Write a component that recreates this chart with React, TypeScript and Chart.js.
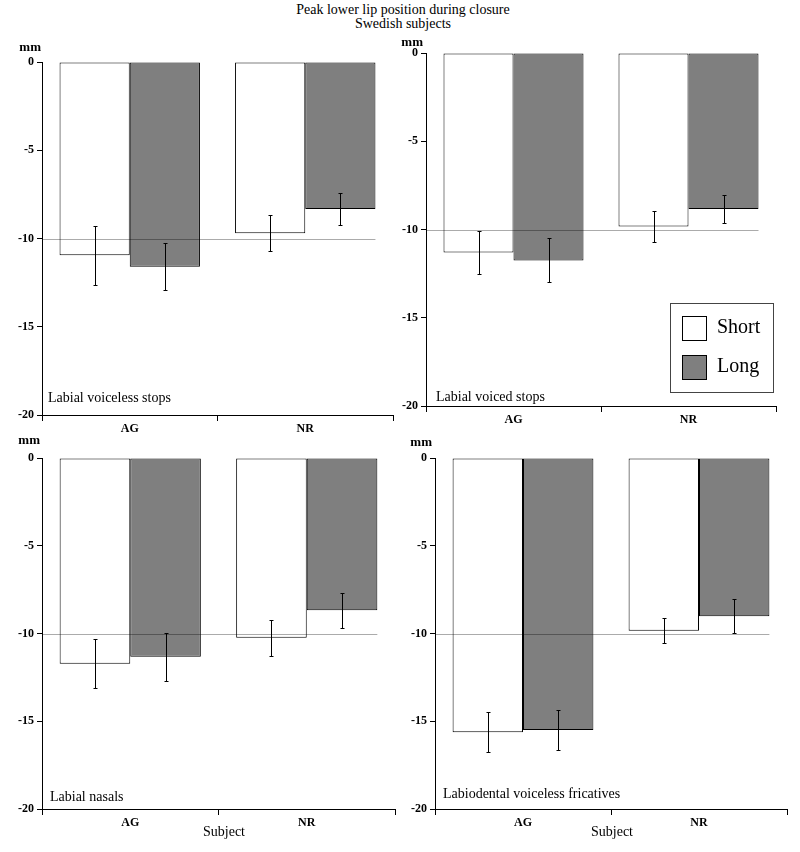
import React, { useEffect, useRef } from 'react';
import { Chart, registerables } from 'chart.js';

Chart.register(...registerables);

const FONT = "'Liberation Serif', 'Times New Roman', Times, serif";
Chart.defaults.font.family = FONT;

// ---------- data ----------
const mainTitleLines = ['Peak lower lip position during closure', 'Swedish subjects'];
const categories = ['AG', 'NR'];
const seriesNames = ['Short', 'Long'];
const yTickValues = [0, -5, -10, -15, -20];
const referenceValue = -10;
const yUnit = 'mm';
const xAxisTitle = 'Subject';

const panelTitles = [
  'Labial voiceless stops',
  'Labial voiced stops',
  'Labial nasals',
  'Labiodental voiceless fricatives',
];

const voicelessStopsShort = [-10.95, -9.7];
const voicelessStopsLong = [-11.6, -8.33];
const voicelessStopsShortErr = [1.68, 1.03];
const voicelessStopsLongErr = [1.34, 0.9];

const voicedStopsShort = [-11.3, -9.83];
const voicedStopsLong = [-11.75, -8.84];
const voicedStopsShortErr = [1.2, 0.86];
const voicedStopsLongErr = [1.25, 0.82];

const nasalsShort = [-11.72, -10.24];
const nasalsLong = [-11.33, -8.67];
const nasalsShortErr = [1.4, 1.02];
const nasalsLongErr = [1.38, 1.0];

const fricativesShort = [-15.63, -9.84];
const fricativesLong = [-15.5, -9.02];
const fricativesShortErr = [1.15, 0.72];
const fricativesLongErr = [1.12, 0.96];

// ---------- styles / layout ----------
const SHORT_COLOR = '#ffffff';
const LONG_COLOR = '#7f7f7f';
const Y_AXIS_W = 26;
const X_AXIS_H = 20;

type Rect = { left: number; top: number; w: number; h: number };
type Area = { l: number; t: number; r: number; b: number };
type Pt = { x: number; y: number };
type PanelCfg = {
  title: string;
  short: number[];
  long: number[];
  shortErr: number[];
  longErr: number[];
  canvas: Rect;
  area: Area;
  mm: Pt;
  label: Pt;
  subject: Pt | null;
  legend: boolean;
};

const panels: PanelCfg[] = [
  {
    title: panelTitles[0],
    short: voicelessStopsShort, long: voicelessStopsLong,
    shortErr: voicelessStopsShortErr, longErr: voicelessStopsLongErr,
    canvas: { left: 0, top: 30, w: 400, h: 405 },
    area: { l: 42, t: 62, r: 393, b: 415 },
    mm: { x: 41, y: 48 }, label: { x: 48, y: 398 }, subject: null, legend: false,
  },
  {
    title: panelTitles[1],
    short: voicedStopsShort, long: voicedStopsLong,
    shortErr: voicedStopsShortErr, longErr: voicedStopsLongErr,
    canvas: { left: 400, top: 30, w: 400, h: 405 },
    area: { l: 426, t: 53, r: 776, b: 406 },
    mm: { x: 423, y: 43 }, label: { x: 436, y: 397 }, subject: null, legend: true,
  },
  {
    title: panelTitles[2],
    short: nasalsShort, long: nasalsLong,
    shortErr: nasalsShortErr, longErr: nasalsLongErr,
    canvas: { left: 0, top: 435, w: 400, h: 417 },
    area: { l: 42, t: 458, r: 395, b: 809 },
    mm: { x: 40, y: 441 }, label: { x: 50, y: 797 }, subject: { x: 224, y: 832 }, legend: false,
  },
  {
    title: panelTitles[3],
    short: fricativesShort, long: fricativesLong,
    shortErr: fricativesShortErr, longErr: fricativesLongErr,
    canvas: { left: 400, top: 435, w: 400, h: 417 },
    area: { l: 435, t: 458, r: 787, b: 809 },
    mm: { x: 432, y: 443 }, label: { x: 443, y: 794 }, subject: { x: 612, y: 832 }, legend: false,
  },
];

function makeDecor(cfg: PanelCfg) {
  const ox = cfg.canvas.left;
  const oy = cfg.canvas.top;
  const errs = [cfg.shortErr, cfg.longErr];
  return {
    id: 'panelDecor',
    afterDatasetsDraw(chart: any) {
      const ctx = chart.ctx;
      const area = chart.chartArea;
      const ys = chart.scales.y;
      ctx.save();
      // reference line
      const lastMeta = chart.getDatasetMeta(chart.data.datasets.length - 1);
      const lastBar: any = lastMeta.data[lastMeta.data.length - 1];
      const right = lastBar.x + lastBar.width / 2;
      const ry = Math.round(ys.getPixelForValue(referenceValue)) + 0.5;
      ctx.strokeStyle = 'rgba(0,0,0,0.33)';
      ctx.lineWidth = 1;
      ctx.beginPath();
      ctx.moveTo(area.left, ry);
      ctx.lineTo(right, ry);
      ctx.stroke();
      // error bars
      ctx.strokeStyle = '#000';
      chart.data.datasets.forEach((ds: any, i: number) => {
        const meta = chart.getDatasetMeta(i);
        meta.data.forEach((bar: any, j: number) => {
          const v = ds.data[j];
          const e = errs[i][j];
          const x = Math.round(bar.x) + 0.5;
          const yTop = Math.round(ys.getPixelForValue(v + e)) + 0.5;
          const yBot = Math.round(ys.getPixelForValue(v - e)) + 0.5;
          ctx.beginPath();
          ctx.moveTo(x, yTop);
          ctx.lineTo(x, yBot);
          ctx.moveTo(x - 2, yTop);
          ctx.lineTo(x + 2, yTop);
          ctx.moveTo(x - 2, yBot);
          ctx.lineTo(x + 2, yBot);
          ctx.stroke();
        });
      });
      ctx.restore();
    },
    afterDraw(chart: any) {
      const ctx = chart.ctx;
      ctx.save();
      ctx.fillStyle = '#000';
      ctx.textBaseline = 'middle';
      // unit
      ctx.font = `bold 13px ${FONT}`;
      ctx.textAlign = 'right';
      ctx.fillText(yUnit, cfg.mm.x - ox, cfg.mm.y - oy);
      // panel label
      ctx.font = `14px ${FONT}`;
      ctx.textAlign = 'left';
      ctx.fillText(cfg.title, cfg.label.x - ox, cfg.label.y - oy);
      // x axis title
      if (cfg.subject) {
        ctx.font = `14px ${FONT}`;
        ctx.textAlign = 'center';
        ctx.fillText(xAxisTitle, cfg.subject.x - ox, cfg.subject.y - oy);
      }
      // legend
      if (cfg.legend) {
        const bx = 670 - ox + 0.5;
        const by = 303 - oy + 0.5;
        ctx.fillStyle = '#fff';
        ctx.fillRect(bx, by, 103, 89);
        ctx.strokeStyle = '#444';
        ctx.lineWidth = 1;
        ctx.strokeRect(bx, by, 103, 89);
        const colors = [SHORT_COLOR, LONG_COLOR];
        const rowY = [316, 355];
        seriesNames.forEach((name, k) => {
          const sx = 682 - ox + 0.5;
          const sy = rowY[k] - oy + 0.5;
          ctx.fillStyle = colors[k];
          ctx.fillRect(sx, sy, 24, 24);
          ctx.strokeStyle = '#000';
          ctx.strokeRect(sx, sy, 24, 24);
          ctx.fillStyle = '#000';
          ctx.font = `20px ${FONT}`;
          ctx.textAlign = 'left';
          ctx.textBaseline = 'middle';
          ctx.fillText(name, 717 - ox, rowY[k] + 12 - oy);
        });
      }
      ctx.restore();
    },
  };
}

function Panel({ cfg }: { cfg: PanelCfg }) {
  const ref = useRef<HTMLCanvasElement | null>(null);
  useEffect(() => {
    if (!ref.current) return;
    const { canvas, area } = cfg;
    const padding = {
      left: area.l - canvas.left - Y_AXIS_W,
      right: canvas.left + canvas.w - area.r,
      top: area.t - canvas.top,
      bottom: canvas.top + canvas.h - area.b - X_AXIS_H,
    };
    const chart = new Chart(ref.current, {
      type: 'bar',
      data: {
        labels: categories,
        datasets: [
          {
            label: seriesNames[0], data: cfg.short,
            backgroundColor: SHORT_COLOR, borderColor: '#000', borderWidth: 1, borderSkipped: false,
          },
          {
            label: seriesNames[1], data: cfg.long,
            backgroundColor: LONG_COLOR, borderColor: '#000', borderWidth: 1, borderSkipped: false,
          },
        ],
      },
      options: {
        responsive: false,
        animation: false,
        events: [],
        layout: { padding },
        datasets: { bar: { categoryPercentage: 0.8, barPercentage: 1 } },
        plugins: { legend: { display: false }, tooltip: { enabled: false }, title: { display: false } },
        scales: {
          x: {
            type: 'category',
            offset: true,
            grid: { offset: true, drawOnChartArea: false, drawTicks: true, tickLength: 6, color: '#000', lineWidth: 1 },
            border: { display: true, color: '#000', width: 1 },
            ticks: { color: '#000', font: { family: FONT, size: 12, weight: 'bold' }, padding: 1, maxRotation: 0 },
            afterFit: (s: any) => { s.height = X_AXIS_H; },
          },
          y: {
            min: -20,
            max: 0,
            grid: { drawOnChartArea: false, drawTicks: true, tickLength: 5, color: '#000', lineWidth: 1 },
            border: { display: true, color: '#000', width: 1 },
            ticks: { color: '#000', font: { family: FONT, size: 12, weight: 'bold' }, padding: 3 },
            afterBuildTicks: (s: any) => { s.ticks = yTickValues.map((v) => ({ value: v })); },
            afterFit: (s: any) => { s.width = Y_AXIS_W; },
          },
        },
      } as any,
      plugins: [makeDecor(cfg)],
    });
    return () => chart.destroy();
  }, [cfg]);
  const c = cfg.canvas;
  return (
    <canvas
      ref={ref}
      width={c.w}
      height={c.h}
      style={{ position: 'absolute', left: c.left, top: c.top, width: c.w, height: c.h }}
    />
  );
}

export default function App() {
  return (
    <div style={{ position: 'absolute', left: 0, top: 0, width: 800, height: 852, background: '#fff', overflow: 'hidden' }}>
      <div
        style={{
          position: 'absolute', left: 3, top: 3, width: 800, textAlign: 'center',
          fontFamily: FONT, fontSize: 14, lineHeight: '14px', color: '#000',
        }}
      >
        {mainTitleLines.map((t) => (
          <div key={t}>{t}</div>
        ))}
      </div>
      {panels.map((p) => (
        <Panel key={p.title} cfg={p} />
      ))}
    </div>
  );
}
